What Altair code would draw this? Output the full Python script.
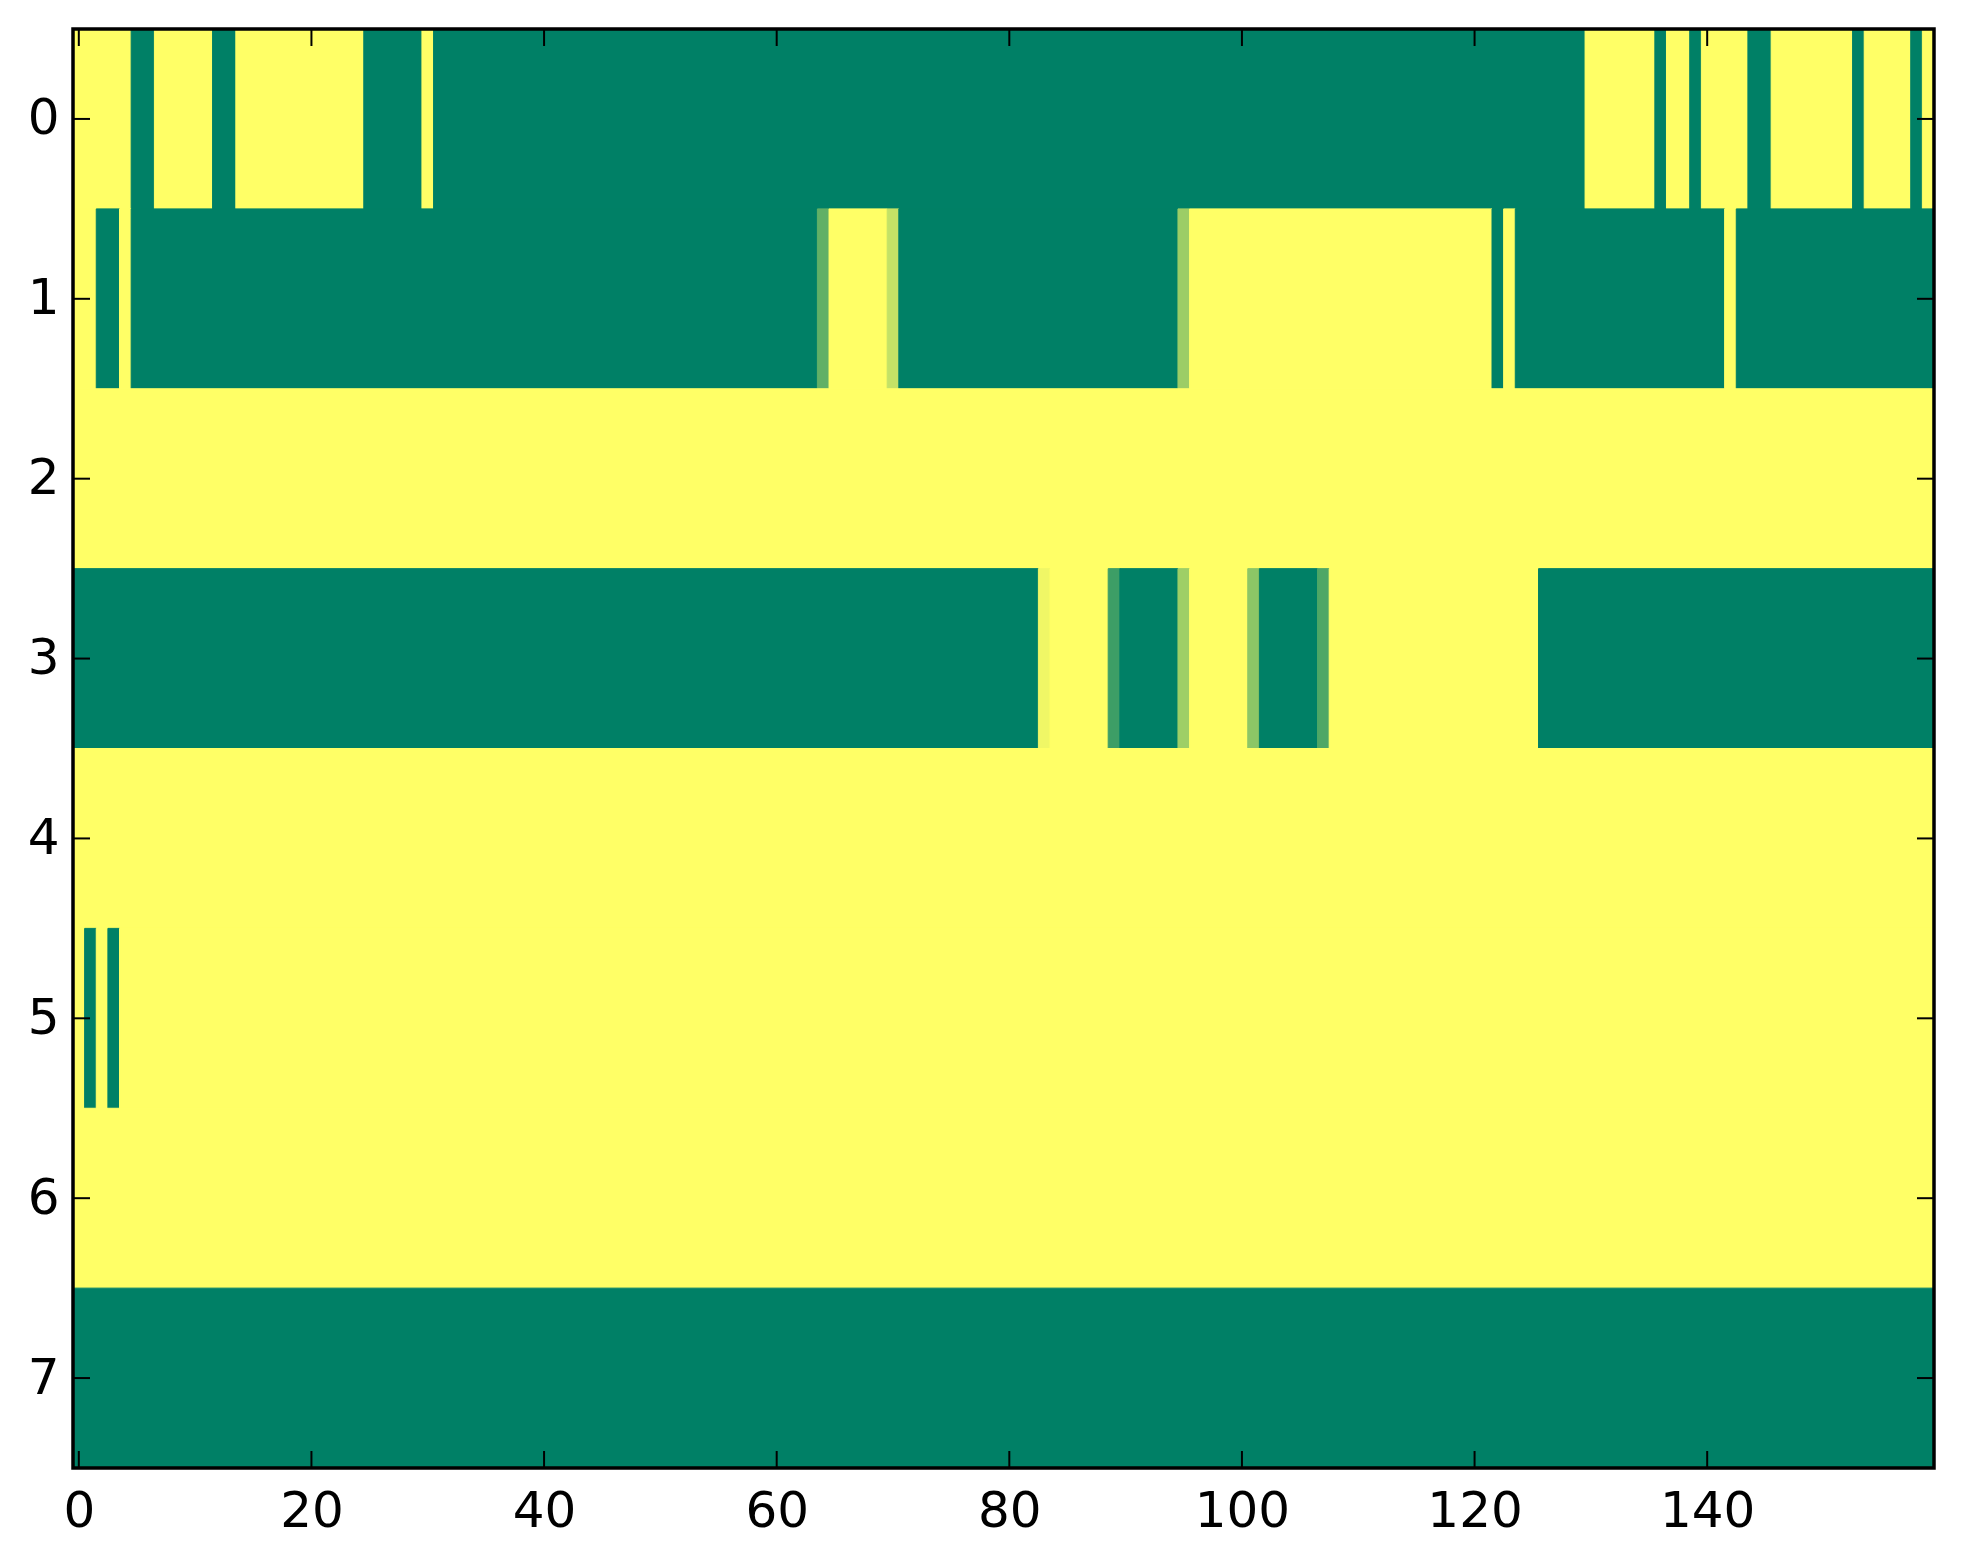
import altair as alt
import pandas as pd

# Run-length encoded rows: (run length, value); value 0 = green, 1 = yellow
ROW_0 = [(5, 1), (2, 0), (5, 1), (2, 0), (11, 1), (5, 0), (1, 1), (99, 0), (6, 1), (1, 0),
         (2, 1), (1, 0), (4, 1), (2, 0), (7, 1), (1, 0), (4, 1), (1, 0), (1, 1)]
ROW_1 = [(2, 1), (2, 0), (1, 1), (59, 0), (1, 0.38), (5, 1), (1, 0.77), (24, 0), (1, 0.61),
         (26, 1), (1, 0), (1, 1), (18, 0), (1, 1), (17, 0)]
ROW_2 = [(160, 1)]
ROW_3 = [(83, 0), (1, 0.94), (5, 1), (1, 0.24), (5, 0), (1, 0.62), (5, 1), (1, 0.55),
         (5, 0), (1, 0.31), (18, 1), (34, 0)]
ROW_4 = [(160, 1)]
ROW_5 = [(1, 1), (1, 0), (1, 1), (1, 0), (156, 1)]
ROW_6 = [(160, 1)]
ROW_7 = [(160, 0)]
ROWS = [ROW_0, ROW_1, ROW_2, ROW_3, ROW_4, ROW_5, ROW_6, ROW_7]

X_TICKS = [0, 20, 40, 60, 80, 100, 120, 140]
Y_TICKS = [0, 1, 2, 3, 4, 5, 6, 7]

records = []
for r, runs in enumerate(ROWS):
    start = 0
    for length, val in runs:
        records.append({"x0": start - 0.5, "x1": start + length - 0.5,
                        "y0": r - 0.5, "y1": r + 0.5, "v": val})
        start += length
cells = pd.DataFrame(records)

W, H = 1861, 1439
TL = 17
FONT = "DejaVu Sans"

xscale = alt.Scale(domain=[-0.5, 159.5], nice=False, zero=False)
yscale = alt.Scale(domain=[-0.5, 7.5], nice=False, zero=False, reverse=True)
cscale = alt.Scale(domain=[0, 1], range=["#008066", "#ffff66"], interpolate="rgb")

xaxis = alt.Axis(values=X_TICKS, ticks=False, domain=False, grid=False, title=None,
                 labelFontSize=50, labelFont=FONT, labelColor="black", labelPadding=18)
yaxis = alt.Axis(values=Y_TICKS, ticks=False, domain=False, grid=False, title=None,
                 labelFontSize=50, labelFont=FONT, labelColor="black", labelPadding=14)

heat = alt.Chart(cells).mark_rect(strokeWidth=1).encode(
    x=alt.X("x0:Q", scale=xscale, axis=xaxis, title=None),
    x2="x1:Q",
    y=alt.Y("y0:Q", scale=yscale, axis=yaxis, title=None),
    y2="y1:Q",
    color=alt.Color("v:Q", scale=cscale, legend=None),
    stroke=alt.Stroke("v:Q", scale=cscale, legend=None),
)

xt = pd.DataFrame({"t": X_TICKS})
yt = pd.DataFrame({"t": Y_TICKS})

top_ticks = alt.Chart(xt).mark_rule(color="black", strokeWidth=2).encode(
    x=alt.X("t:Q", scale=xscale, axis=xaxis, title=None), y=alt.value(0), y2=alt.value(TL))
bot_ticks = alt.Chart(xt).mark_rule(color="black", strokeWidth=2).encode(
    x=alt.X("t:Q", scale=xscale, axis=xaxis, title=None), y=alt.value(H - TL), y2=alt.value(H))
left_ticks = alt.Chart(yt).mark_rule(color="black", strokeWidth=2).encode(
    y=alt.Y("t:Q", scale=yscale, axis=yaxis, title=None), x=alt.value(0), x2=alt.value(TL))
right_ticks = alt.Chart(yt).mark_rule(color="black", strokeWidth=2).encode(
    y=alt.Y("t:Q", scale=yscale, axis=yaxis, title=None), x=alt.value(W - TL), x2=alt.value(W))

frame = alt.Chart(pd.DataFrame({"a": [0]})).mark_rect(
    fill=None, stroke="black", strokeWidth=3.5).encode(
    x=alt.value(0), x2=alt.value(W), y=alt.value(0), y2=alt.value(H))

chart = alt.layer(heat, top_ticks, bot_ticks, left_ticks, right_ticks, frame).properties(
    width=W, height=H,
    autosize=alt.AutoSizeParams(type="none"),
    padding={"left": 65, "top": 21, "right": 20, "bottom": 80},
).configure_view(stroke=None)

chart.save("out.html", embed_options={"renderer": "svg", "actions": False})
